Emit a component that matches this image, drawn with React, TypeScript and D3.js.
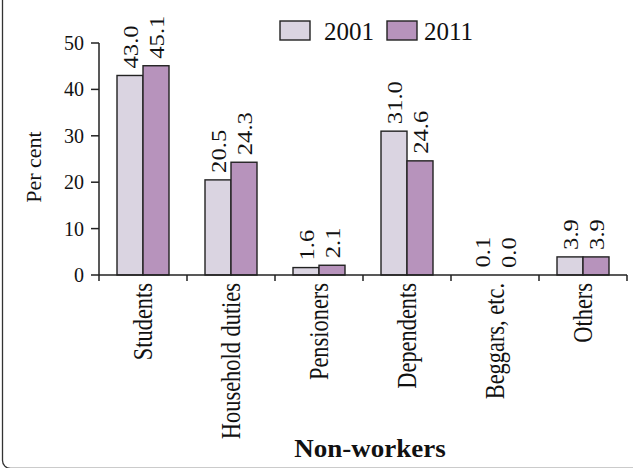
import React from 'react';
import * as d3 from 'd3';

// Non-workers by category, per cent
const categories = ['Students', 'Household duties', 'Pensioners', 'Dependents', 'Beggars, etc.', 'Others'];
const series = ['2001', '2011'];
const values2001 = [43.0, 20.5, 1.6, 31.0, 0.1, 3.9];
const values2011 = [45.1, 24.3, 2.1, 24.6, 0.0, 3.9];
const yTicks = [0, 10, 20, 30, 40, 50];
const colors = ['#dad4e1', '#b793bc'];

const W = 633;
const H = 468;
const FONT = "'Liberation Serif', 'Times New Roman', Times, serif";

const App: React.FC = () => {
  const left = 99;
  const right = 627;
  const top = 43;
  const bottom = 275;

  const x = d3.scaleBand<string>().domain(categories).range([left, right]).padding(0);
  const step = x.step();
  const xSub = d3.scaleBand<string>().domain(series).range([(step - 52) / 2, (step + 52) / 2]);
  const y = d3.scaleLinear().domain([0, 50]).range([bottom, top]);

  const rows = [values2001, values2011];

  return (
    <svg
      width={W}
      height={H}
      style={{ position: 'fixed', left: 0, top: 0, background: '#fff', fontFamily: FONT }}
    >
      {/* frame */}
      <rect x={2.5} y={-20} width={660} height={488.5} rx={8} fill="none" stroke="#333" strokeWidth={1.3} />

      {/* bars */}
      {categories.map((c, i) => (
        <g key={c} transform={`translate(${x(c)},0)`}>
          {series.map((s, k) => {
            const v = rows[k][i];
            const bx = xSub(s)!;
            const bw = xSub.bandwidth();
            return (
              <g key={s}>
                {y(0) - y(v) >= 1 && (
                  <rect x={bx} y={y(v)} width={bw} height={y(0) - y(v)} fill={colors[k]} stroke="#222" strokeWidth={1.4} />
                )}
                <text
                  transform={`translate(${bx + bw / 2},${y(v) - 7}) rotate(-90) scale(1.12,1)`}
                  dominantBaseline="central"
                  fontSize={22}
                  fill="#111"
                >
                  {v.toFixed(1)}
                </text>
              </g>
            );
          })}
          <text
            transform={`translate(${step / 2},${bottom + 8}) rotate(-90) scale(0.83,1)`}
            textAnchor="end"
            dominantBaseline="central"
            fontSize={27}
            fill="#111"
          >
            {c}
          </text>
        </g>
      ))}

      {/* y axis */}
      <line x1={left} x2={left} y1={top} y2={bottom} stroke="#222" strokeWidth={1.5} />
      {yTicks.map(t => (
        <g key={t}>
          <line x1={left - 8} x2={left} y1={y(t)} y2={y(t)} stroke="#222" strokeWidth={1.5} />
          <text x={left - 15} y={y(t)} textAnchor="end" dominantBaseline="central" fontSize={20} fill="#111">
            {t}
          </text>
        </g>
      ))}

      {/* x axis */}
      <line x1={left} x2={right} y1={bottom} y2={bottom} stroke="#222" strokeWidth={1.5} />
      {[...categories.map(c => x(c)!), right].map((px, i) => (
        <line key={i} x1={px} x2={px} y1={bottom} y2={bottom + 6} stroke="#222" strokeWidth={1.5} />
      ))}

      {/* axis titles */}
      <text
        transform={`translate(33,${(top + bottom) / 2 + 8}) rotate(-90)`}
        textAnchor="middle"
        dominantBaseline="central"
        fontSize={22}
        fill="#111"
      >
        Per cent
      </text>
      <text
        transform={`translate(370,457) scale(1.08,1)`}
        textAnchor="middle"
        fontSize={25}
        fontWeight="bold"
        fill="#111"
      >
        Non-workers
      </text>

      {/* legend */}
      {series.map((s, k) => (
        <g key={s} transform={`translate(${280 + k * 107},21)`}>
          <rect x={0} y={0} width={30} height={19} fill={colors[k]} stroke="#222" strokeWidth={1.4} />
          <text x={k === 0 ? 44 : 37} y={19} fontSize={25} fill="#111">
            {s}
          </text>
        </g>
      ))}
    </svg>
  );
};

export default App;
